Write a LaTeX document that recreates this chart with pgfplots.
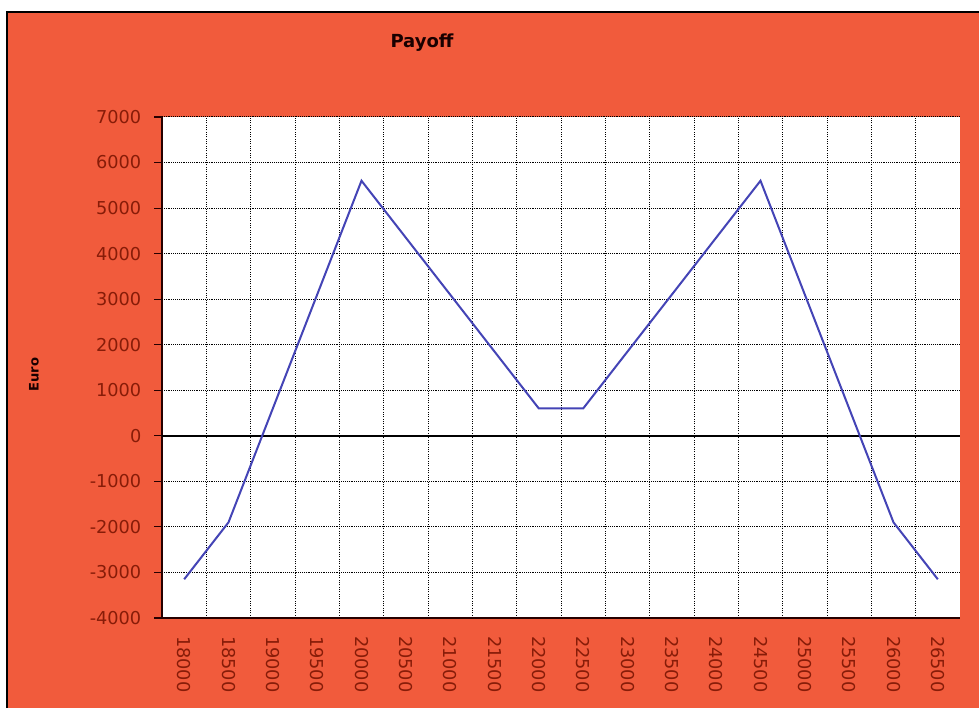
\documentclass[border=0pt]{standalone}
\usepackage{pgfplots}
\pgfplotsset{compat=1.18}
\usepackage{fontspec}
\setmainfont{DejaVu Sans}
\definecolor{panel}{RGB}{241,91,60}
\definecolor{ticktext}{RGB}{135,28,8}
\definecolor{payoffline}{RGB}{68,68,182}
\begin{document}
\begin{tikzpicture}
% page: 979 x 708 px at 0.75pt per px
\useasboundingbox (0,0) rectangle (734.25pt,531pt);
\fill[white] (0,0) rectangle (734.25pt,531pt);
\fill[panel] (5.25pt,0) rectangle (734.25pt,522pt);
\draw[black, line width=0.8pt] (5.25pt,0) -- (5.25pt,522pt) -- (734.25pt,522pt);
% title and y label
\node[font=\bfseries\fontsize{13.5}{16}\selectfont, text=black!90!red] at (316.5pt,499pt) {Payoff};
\node[font=\bfseries\fontsize{9.8}{12}\selectfont, rotate=90, text=black!90!red] at (25.5pt,250pt) {Euro};
\begin{axis}[
  at={(121.5pt,67.5pt)}, anchor=south west,
  scale only axis, width=598.5pt, height=375.75pt,
  xmin=-0.5, xmax=17.5, ymin=-4000, ymax=7000,
  axis background/.style={fill=white},
  axis x line*=bottom, axis y line*=left,
  axis line style={-, black!85!red, line width=0.9pt},
  xtick={0,...,17},
  xticklabels={18000,18500,19000,19500,20000,20500,21000,21500,22000,22500,23000,23500,24000,24500,25000,25500,26000,26500},
  xtick style={draw=none},
  xticklabel style={rotate=-90, anchor=west, font=\fontsize{13.3}{15}\selectfont, text=ticktext, xshift=4pt, yshift=0pt},
  minor xtick={0.5,1.5,...,16.5},
  xminorgrids=true,
  minor x tick style={draw=none},
  ytick={-4000,-3000,...,7000},
  ymajorgrids=true,
  ytick style={black!85!red, line width=0.8pt},
  tick align=outside,
  major tick length=6pt,
  yticklabel style={font=\fontsize{13.3}{15}\selectfont, text=ticktext, xshift=-6pt},
  /pgf/number format/assume math mode=true,
  /pgf/number format/1000 sep={},
  grid style={black, densely dotted, line width=0.75pt},
  minor grid style={black, densely dotted, line width=0.75pt},
  clip=false,
]
\draw[black, line width=1.3pt] (axis cs:-0.5,0) -- (axis cs:17.5,0);
\addplot[payoffline, line width=1.5pt, mark=none] coordinates {
  (0,-3150) (1,-1900) (2,600) (3,3100) (4,5600) (5,4350) (6,3100) (7,1850)
  (8,600) (9,600) (10,1850) (11,3100) (12,4350) (13,5600) (14,3100) (15,600)
  (16,-1900) (17,-3150)
};
\end{axis}
\end{tikzpicture}
\end{document}
